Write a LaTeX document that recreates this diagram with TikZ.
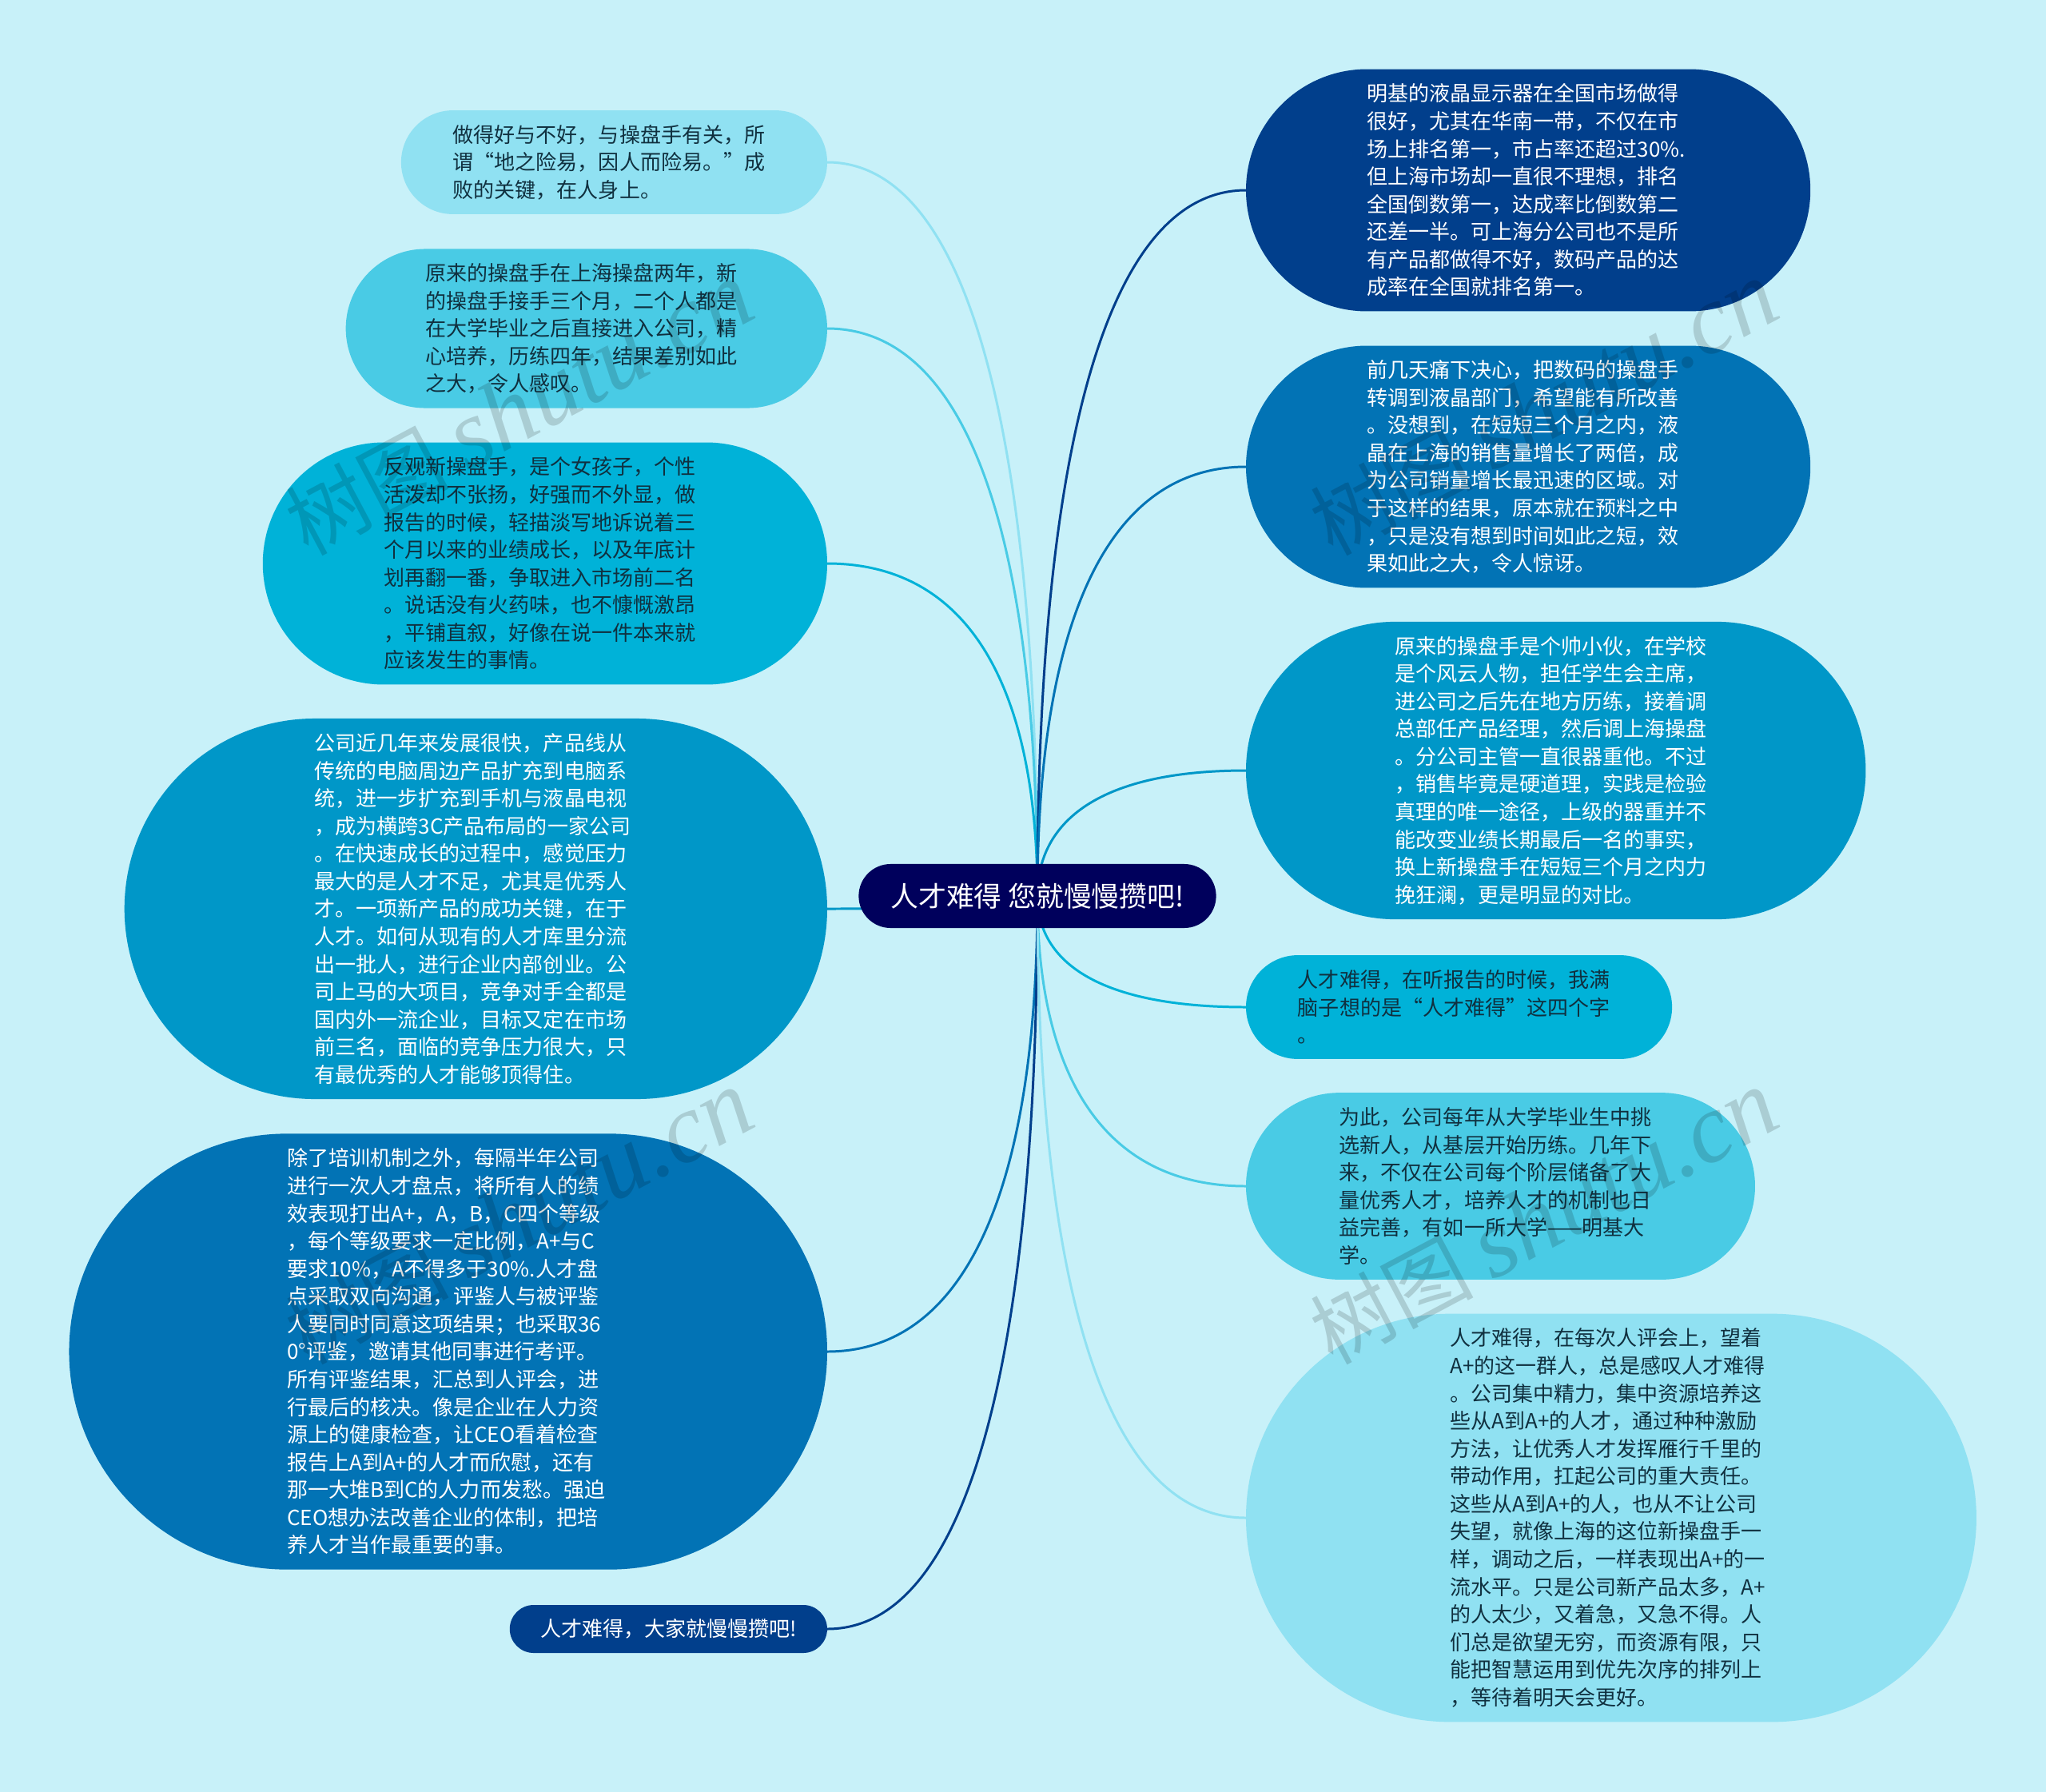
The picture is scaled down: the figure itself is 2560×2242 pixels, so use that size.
\documentclass[tikz,border=0pt]{standalone}
\usepackage{fontspec}
\setmainfont{Noto Sans CJK SC}
\newfontfamily\markfont{Liberation Serif}
\usepackage{xcolor}
\usetikzlibrary{backgrounds}
\usetikzlibrary{calc}
\definecolor{paper}{HTML}{C8F1F9}
\definecolor{toneroot}{HTML}{00005C}
\definecolor{toneA}{HTML}{013F8C}
\definecolor{toneB}{HTML}{0273B5}
\definecolor{toneC}{HTML}{0097C8}
\definecolor{toneD}{HTML}{00B2D8}
\definecolor{toneE}{HTML}{49CBE5}
\definecolor{toneF}{HTML}{90E1F2}
\definecolor{inkdark}{HTML}{10303F}
\tikzset{
  bubble/.style={inner sep=0pt, outer sep=0pt, font=\fontsize{7.4}{9.83}\selectfont},
  leaf/.style={bubble, text width=4.03cm, align=left, minimum height=#1*0.346cm+0.26cm, minimum width=4.03cm+#1*0.346cm+0.26cm, rounded corners=#1*0.173cm+0.13cm},
  onleft/.style={anchor=east},
  onright/.style={anchor=west},
  link/.style={line width=0.85pt},
  stamp/.style={opacity=0.15, text=black, rotate=28, font=\fontsize{29}{34}\selectfont}
}
\newcommand{\stamptext}{树图 {\markfont\itshape\fontsize{35}{35}\selectfont shutu.cn}}
\begin{document}
\begin{tikzpicture}[x=0.01cm, y=-0.01cm]
\useasboundingbox (0,0) rectangle (2560,2242);
\node [inner sep=0pt, fill=toneroot, text=white, minimum width=4.47cm, minimum height=0.8cm, rounded corners=0.4cm, font=\fontsize{9.9}{11}\selectfont] (root) at (1298,1121) {人才难得 您就慢慢攒吧!};

\node [leaf=3, onleft, fill=toneF, text=inkdark] (luck) at (1035,203) {做得好与不好，与操盘手有关，所\\谓“地之险易，因人而险易。”成\\败的关键，在人身上。};
\node [leaf=5, onleft, fill=toneE, text=inkdark] (oldhand) at (1035,411) {原来的操盘手在上海操盘两年，新\\的操盘手接手三个月，二个人都是\\在大学毕业之后直接进入公司，精\\心培养，历练四年，结果差别如此\\之大，令人感叹。};
\node [leaf=8, onleft, fill=toneD, text=inkdark] (newhand) at (1035,705) {反观新操盘手，是个女孩子，个性\\活泼却不张扬，好强而不外显，做\\报告的时候，轻描淡写地诉说着三\\个月以来的业绩成长，以及年底计\\划再翻一番，争取进入市场前二名\\。说话没有火药味，也不慷慨激昂\\，平铺直叙，好像在说一件本来就\\应该发生的事情。};
\node [leaf=13, onleft, fill=toneC, text=white] (company) at (1035,1137) {公司近几年来发展很快，产品线从\\传统的电脑周边产品扩充到电脑系\\统，进一步扩充到手机与液晶电视\\，成为横跨3C产品布局的一家公司\\。在快速成长的过程中，感觉压力\\最大的是人才不足，尤其是优秀人\\才。一项新产品的成功关键，在于\\人才。如何从现有的人才库里分流\\出一批人，进行企业内部创业。公\\司上马的大项目，竞争对手全都是\\国内外一流企业，目标又定在市场\\前三名，面临的竞争压力很大，只\\有最优秀的人才能够顶得住。};
\node [leaf=15, onleft, fill=toneB, text=white] (review) at (1035,1691) {除了培训机制之外，每隔半年公司\\进行一次人才盘点，将所有人的绩\\效表现打出A+，A，B，C四个等级\\，每个等级要求一定比例，A+与C\\要求10\%，A不得多于30\%.人才盘\\点采取双向沟通，评鉴人与被评鉴\\人要同时同意这项结果；也采取36\\0°评鉴，邀请其他同事进行考评。\\所有评鉴结果，汇总到人评会，进\\行最后的核决。像是企业在人力资\\源上的健康检查，让CEO看着检查\\报告上A到A+的人才而欣慰，还有\\那一大堆B到C的人力而发愁。强迫\\CEO想办法改善企业的体制，把培\\养人才当作最重要的事。};
\node [bubble, onleft, fill=toneA, text=white, minimum width=3.97cm, minimum height=0.6cm, rounded corners=0.3cm] (closing) at (1035,2038) {人才难得，大家就慢慢攒吧!};

\node [leaf=8, onright, fill=toneA, text=white] (lcd) at (1559,238) {明基的液晶显示器在全国市场做得\\很好，尤其在华南一带，不仅在市\\场上排名第一，市占率还超过30\%.\\但上海市场却一直很不理想，排名\\全国倒数第一，达成率比倒数第二\\还差一半。可上海分公司也不是所\\有产品都做得不好，数码产品的达\\成率在全国就排名第一。};
\node [leaf=8, onright, fill=toneB, text=white] (swap) at (1559,584) {前几天痛下决心，把数码的操盘手\\转调到液晶部门，希望能有所改善\\。没想到，在短短三个月之内，液\\晶在上海的销售量增长了两倍，成\\为公司销量增长最迅速的区域。对\\于这样的结果，原本就在预料之中\\，只是没有想到时间如此之短，效\\果如此之大，令人惊讶。};
\node [leaf=10, onright, fill=toneC, text=white] (youth) at (1559,964) {原来的操盘手是个帅小伙，在学校\\是个风云人物，担任学生会主席，\\进公司之后先在地方历练，接着调\\总部任产品经理，然后调上海操盘\\。分公司主管一直很器重他。不过\\，销售毕竟是硬道理，实践是检验\\真理的唯一途径，上级的器重并不\\能改变业绩长期最后一名的事实，\\换上新操盘手在短短三个月之内力\\挽狂澜，更是明显的对比。};
\node [leaf=3, onright, fill=toneD, text=inkdark] (meeting) at (1559,1260) {人才难得，在听报告的时候，我满\\脑子想的是“人才难得”这四个字\\。};
\node [leaf=6, onright, fill=toneE, text=inkdark] (school) at (1559,1484) {为此，公司每年从大学毕业生中挑\\选新人，从基层开始历练。几年下\\来，不仅在公司每个阶层储备了大\\量优秀人才，培养人才的机制也日\\益完善，有如一所大学——明基大\\学。};
\node [leaf=14, onright, fill=toneF, text=inkdark] (council) at (1559,1899) {人才难得，在每次人评会上，望着\\A+的这一群人，总是感叹人才难得\\。公司集中精力，集中资源培养这\\些从A到A+的人才，通过种种激励\\方法，让优秀人才发挥雁行千里的\\带动作用，扛起公司的重大责任。\\这些从A到A+的人，也从不让公司\\失望，就像上海的这位新操盘手一\\样，调动之后，一样表现出A+的一\\流水平。只是公司新产品太多，A+\\的人太少，又着急，又急不得。人\\们总是欲望无穷，而资源有限，只\\能把智慧运用到优先次序的排列上\\，等待着明天会更好。};

\begin{pgfonlayer}{background}
\fill [paper] (0,0) rectangle (2560,2242);
\foreach \leafname/\tone/\side in {luck/toneF/east, oldhand/toneE/east, newhand/toneD/east, company/toneC/east, review/toneB/east, closing/toneA/east, lcd/toneA/west, swap/toneB/west, youth/toneC/west, meeting/toneD/west, school/toneE/west, council/toneF/west}
  \draw [link, \tone] (root.center) .. controls ($(root.center)!0.6!(root.center |- \leafname.\side)$) and ($(root.center |- \leafname.\side)!0.3!(\leafname.\side)$) .. (\leafname.\side);
\end{pgfonlayer}

\node [stamp] (stampa) at (650,512) {\stamptext};
\node [stamp] (stampb) at (650,1524) {\stamptext};
\node [stamp] (stampc) at (1932,512) {\stamptext};
\node [stamp] (stampd) at (1932,1524) {\stamptext};
\end{tikzpicture}
\end{document}
